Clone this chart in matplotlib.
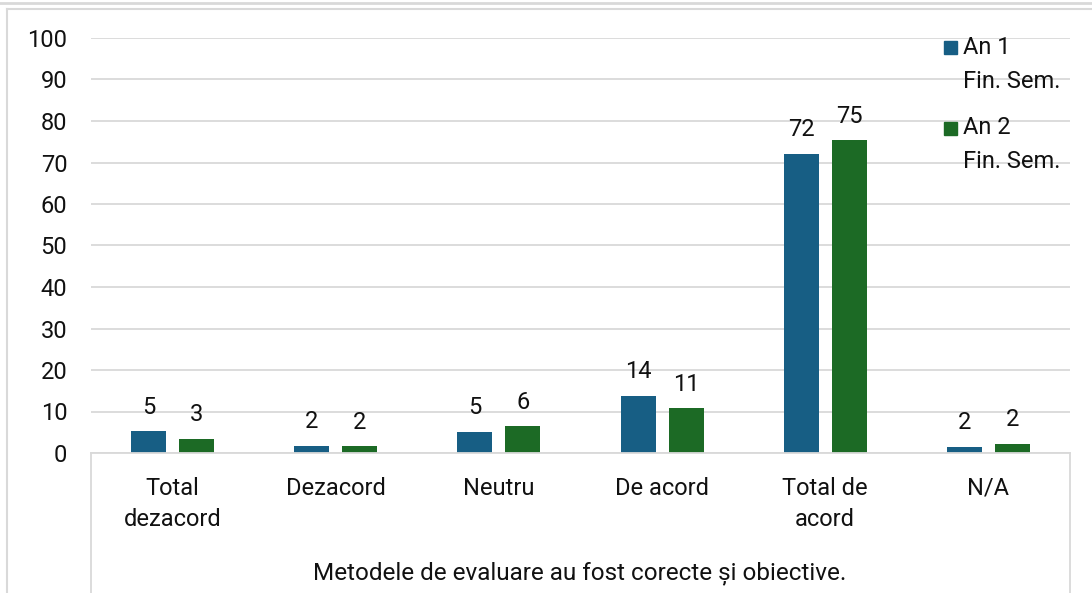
import numpy as np
import matplotlib.pyplot as plt
from matplotlib.lines import Line2D
from matplotlib.patches import Rectangle

plt.rcParams['font.family'] = ['Roboto', 'DejaVu Sans']

# date
categorii = ['Total\ndezacord', 'Dezacord', 'Neutru', 'De acord', 'Total de\nacord', 'N/A']
an1 = [5.3, 1.7, 5.1, 13.8, 72.1, 1.5]
an2 = [3.4, 1.6, 6.4, 10.8, 75.4, 2.2]
serii = ['An 1\nFin. Sem.', 'An 2\nFin. Sem.']
culori = ['#175e84', '#1c6a25']
titlu_axa = 'Metodele de evaluare au fost corecte și obiective.'

FS = 17
TXT = '#111111'
W, H = 1092, 593
fig = plt.figure(figsize=(W / 100, H / 100), dpi=100)
ax = fig.add_axes([91 / W, 1 - 453 / H, (1070 - 91) / W, (453 - 38) / H])

x = np.arange(len(categorii))
w = 0.215
off = 0.147
for vals, dx, c in zip([an1, an2], [-off, off], culori):
    bars = ax.bar(x + dx, vals, w, color=c)
    for b, v in zip(bars, vals):
        ax.annotate(f'{round(v)}', (b.get_x() + b.get_width() / 2, v),
                    xytext=(0, 9), textcoords='offset points',
                    ha='center', va='bottom', fontsize=FS, color=TXT)

ax.set_xlim(-0.5, len(categorii) - 0.5)
ax.set_ylim(0, 100)
ax.set_yticks(range(0, 101, 10))
ax.grid(axis='y', color='#d9d9d9', linewidth=1.3)
ax.set_axisbelow(True)
for s in ['top', 'right', 'left']:
    ax.spines[s].set_visible(False)
ax.spines['bottom'].set_color('#d9d9d9')
ax.spines['bottom'].set_linewidth(1.3)
ax.tick_params(axis='y', length=0, pad=17, labelsize=FS, labelcolor=TXT)
ax.set_xticks(x)
ax.set_xticklabels(categorii, fontsize=FS, color=TXT, linespacing=1.45)
ax.tick_params(axis='x', length=0, pad=17)

fig.text(580 / W, 1 - 573 / H, titlu_axa, ha='center', va='center',
         fontsize=FS + 0.5, color=TXT)

# cadrul axei de categorii
for xp in [91, 1070]:
    fig.add_artist(Line2D([xp / W, xp / W], [1 - 453 / H, 0], color='#d9d9d9', linewidth=1.3))

# legenda
for i, (lab, c) in enumerate(zip(serii, culori)):
    yc = [47, 128][i]
    fig.add_artist(Rectangle((944 / W, 1 - (yc + 7) / H), 13 / W, 13 / H,
                             transform=fig.transFigure, color=c))
    l1, l2 = lab.split('\n')
    fig.text(963 / W, 1 - yc / H, l1, ha='left', va='center', fontsize=FS, color=TXT)
    fig.text(963 / W, 1 - (yc + 34) / H, l2, ha='left', va='center', fontsize=FS, color=TXT)

# chenarul
fig.add_artist(Line2D([0, 1], [1 - 3 / H, 1 - 3 / H], color='#d9d9d9', linewidth=2))
fig.add_artist(Line2D([7 / W, 1], [1 - 9 / H, 1 - 9 / H], color='#d9d9d9', linewidth=1.5))
fig.add_artist(Line2D([7 / W, 7 / W], [1 - 9 / H, 0], color='#d9d9d9', linewidth=1.5))

fig.savefig('out.png', dpi=100)
